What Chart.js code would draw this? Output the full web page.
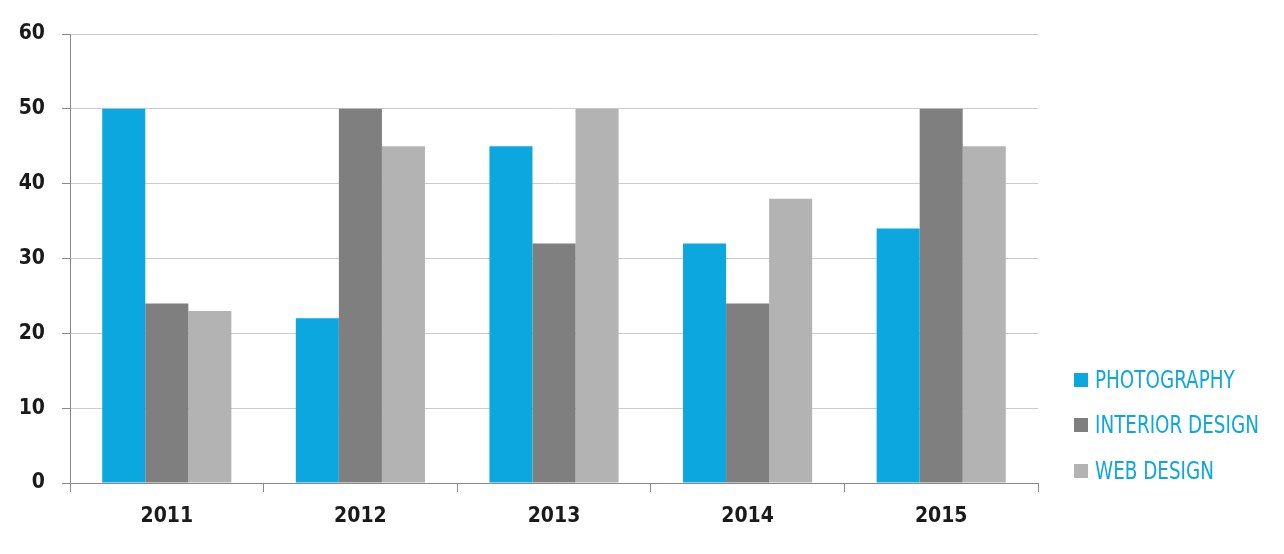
<!DOCTYPE html>
<html>
<head>
<meta charset="utf-8">
<script src="https://cdn.jsdelivr.net/npm/chart.js@4"></script>
<style>
  html, body { margin: 0; padding: 0; background: #fff; }
  #wrap { position: relative; width: 1284px; height: 554px; }
  #legend { position: absolute; left: 1074px; top: 357px; font-family: "DejaVu Sans Condensed", sans-serif; font-size: 24px; color: #0da7df; }
  #legend div { height: 45.5px; display: flex; align-items: center; }
  #legend span { display: inline-block; width: 14px; height: 14px; margin-right: 7px; }
  #legend b { font-weight: normal; display: inline-block; transform: scaleX(0.85); transform-origin: left center; white-space: nowrap; }
</style>
</head>
<body>
<div id="wrap">
  <canvas id="chart" width="1284" height="554"></canvas>
  <div id="legend"></div>
</div>
<script>
  const years = ['2011', '2012', '2013', '2014', '2015'];
  const photography = [50, 22, 45, 32, 34];
  const interiorDesign = [24, 50, 32, 24, 50];
  const webDesign = [23, 45, 50, 38, 45];
  const seriesNames = ['PHOTOGRAPHY', 'INTERIOR DESIGN', 'WEB DESIGN'];
  const colors = ['#0da7df', '#7f7f7f', '#b3b3b3'];

  const font = { family: '"DejaVu Sans Condensed", sans-serif', size: 21, weight: 'bold' };

  const ctx = document.getElementById('chart').getContext('2d');
  const myChart = new Chart(ctx, {
    type: 'bar',
    data: {
      labels: years,
      datasets: [photography, interiorDesign, webDesign].map((vals, i) => ({
        label: seriesNames[i],
        data: vals,
        backgroundColor: colors[i],
        borderColor: colors[i],
        borderWidth: 0,
        categoryPercentage: 0.667,
        barPercentage: 1.0
      }))
    },
    options: {
      responsive: false,
      animation: false,
      layout: { padding: { left: 0, top: 34, right: 246, bottom: 0 } },
      plugins: { legend: { display: false }, tooltip: { enabled: false } },
      scales: {
        x: {
          grid: { offset: true, drawOnChartArea: false, drawTicks: true, tickLength: 9, color: '#8a8a8a' },
          border: { color: '#8a8a8a' },
          ticks: { color: '#1a1a1a', font: font, padding: 12 },
          afterFit: s => { s.height = 71; }
        },
        y: {
          min: 0, max: 60,
          ticks: { stepSize: 10, color: '#1a1a1a', font: font, padding: 17 },
          grid: { color: '#cccccc', tickColor: '#8a8a8a', tickLength: 8 },
          border: { color: '#8a8a8a' },
          afterFit: s => { s.width = 70; }
        }
      }
    }
  });

  const legend = document.getElementById('legend');
  seriesNames.forEach((name, i) => {
    const row = document.createElement('div');
    row.innerHTML = '<span style="background:' + colors[i] + '"></span><b>' + name + '</b>';
    legend.appendChild(row);
  });
</script>
</body>
</html>
